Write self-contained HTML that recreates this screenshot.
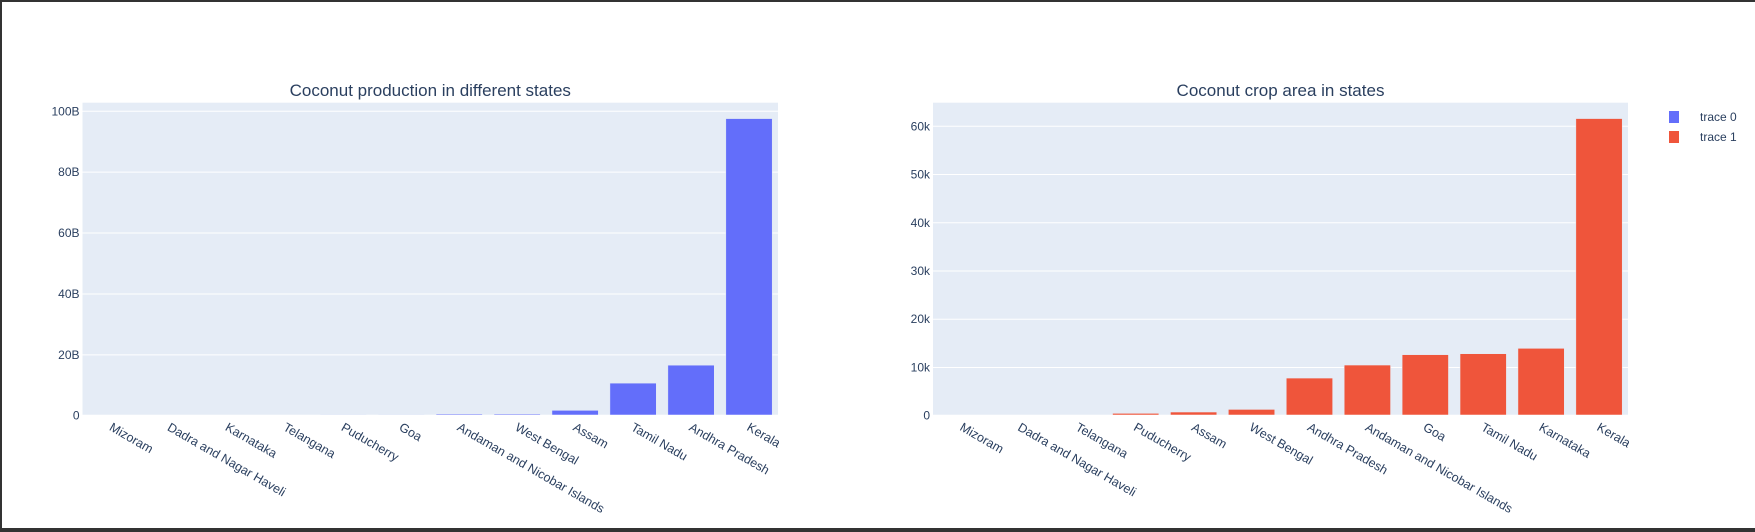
<!DOCTYPE html>
<html><head><meta charset="utf-8">
<style>
html,body{margin:0;padding:0;background:#fff;}
#wrap{position:relative;width:1755px;height:532px;overflow:hidden;background:#fff;}
svg text{font-family:"Liberation Sans",sans-serif;}
</style></head>
<body>
<div id="wrap">
<svg id="svg" width="1755" height="532" xmlns="http://www.w3.org/2000/svg">
<rect x="0" y="0" width="1755" height="2" fill="#333"/>
<rect x="0" y="0" width="2" height="532" fill="#333"/>
<rect x="0" y="528" width="1755" height="4" fill="#333"/>
<g id="legend">
<rect x="1669" y="111" width="10" height="12" fill="#636efa"/>
<text x="1700" y="121" font-size="12" fill="#2a3f5f">trace 0</text>
<rect x="1669" y="131" width="10" height="12" fill="#ef553b"/>
<text x="1700" y="141" font-size="12" fill="#2a3f5f">trace 1</text>
</g>
</svg>
</div>
<script>
const prodCategories = ["Mizoram","Dadra and Nagar Haveli","Karnataka","Telangana","Puducherry","Goa","Andaman and Nicobar Islands","West Bengal","Assam","Tamil Nadu","Andhra Pradesh","Kerala"];
const prodValues = [0, 0.02e9, 0.02e9, 0.05e9, 0.35e9, 0.35e9, 0.55e9, 0.55e9, 1.75e9, 10.7e9, 16.6e9, 97.6e9];
const prodTicks = [0, 20e9, 40e9, 60e9, 80e9, 100e9];
const prodTickLabels = ["0","20B","40B","60B","80B","100B"];

const areaCategories = ["Mizoram","Dadra and Nagar Haveli","Telangana","Puducherry","Assam","West Bengal","Andhra Pradesh","Andaman and Nicobar Islands","Goa","Tamil Nadu","Karnataka","Kerala"];
const areaValues = [0, 70, 140, 480, 760, 1300, 7800, 10500, 12650, 12850, 13960, 61600];
const areaTicks = [0, 10000, 20000, 30000, 40000, 50000, 60000];
const areaTickLabels = ["0","10k","20k","30k","40k","50k","60k"];

const NS = "http://www.w3.org/2000/svg";
const svg = document.getElementById('svg');
const legend = document.getElementById('legend');
function drawChart(o){
  const g = document.createElementNS(NS,'g');
  
  
  svg.insertBefore(g, legend);
  const app = (tag, attrs) => { const e=document.createElementNS(NS,tag); for(const k in attrs) e.setAttribute(k,attrs[k]); g.appendChild(e); return e; };
  const y = v => o.y0 - v / o.vmax * (o.y0 - o.ytop);
  const bw = (o.x1 - o.x0) / o.cats.length;
  const xc = i => o.x0 + bw * (i + 0.5);
  const bg = app('rect',{x:o.x0,y:102.7,width:o.x1-o.x0,height:o.y0-102.7,fill:'#E5ECF6'});
  
  
  o.ticks.forEach((t,i)=>{
    if (t>0){
      const l = app('line',{x1:o.x0,x2:o.x1,y1:y(t),y2:y(t),stroke:'#fff','stroke-width':1});
      
      
    }
    const tx = app('text',{x:o.x0-3,y:y(t)+4,'font-size':12,fill:'#2a3f5f','text-anchor':'end'});
    tx.textContent = o.tickLabels[i];
    
    
  });
  o.vals.forEach((v,i)=>{
    const w = bw*0.8;
    const r = app('rect',{x:xc(i)-w/2,y:y(v),width:w,height:Math.max(0,o.y0-y(v)),fill:o.color,stroke:'#E5ECF6','stroke-width':0.5});
    
    
  });
  const zl = app('line',{x1:o.x0,x2:o.x1,y1:o.y0,y2:o.y0,stroke:'#fff','stroke-width':2});
  
  
  o.cats.forEach((c,i)=>{
    const lx = xc(i)-3, ly = o.y0+14;
    const tx = app('text',{x:lx,y:ly,'font-size':12.5,fill:'#2a3f5f',transform:`rotate(30 ${lx} ${ly})`});
    tx.textContent = c;
    
    
  });
  const tt = app('text',{x:(o.x0+o.x1)/2,y:96,'font-size':17,fill:'#2a3f5f','text-anchor':'middle'});
  tt.textContent = o.title;
  
  
}
drawChart({name:'production-chart',x0:82.5,x1:778,y0:415.7,ytop:111.3,vmax:100e9,cats:prodCategories,vals:prodValues,ticks:prodTicks,tickLabels:prodTickLabels,color:'#636efa',title:'Coconut production in different states'});
drawChart({name:'area-chart',x0:933,x1:1628,y0:415.7,ytop:126.3,vmax:60000,cats:areaCategories,vals:areaValues,ticks:areaTicks,tickLabels:areaTickLabels,color:'#ef553b',title:'Coconut crop area in states'});
</script>
</body></html>
